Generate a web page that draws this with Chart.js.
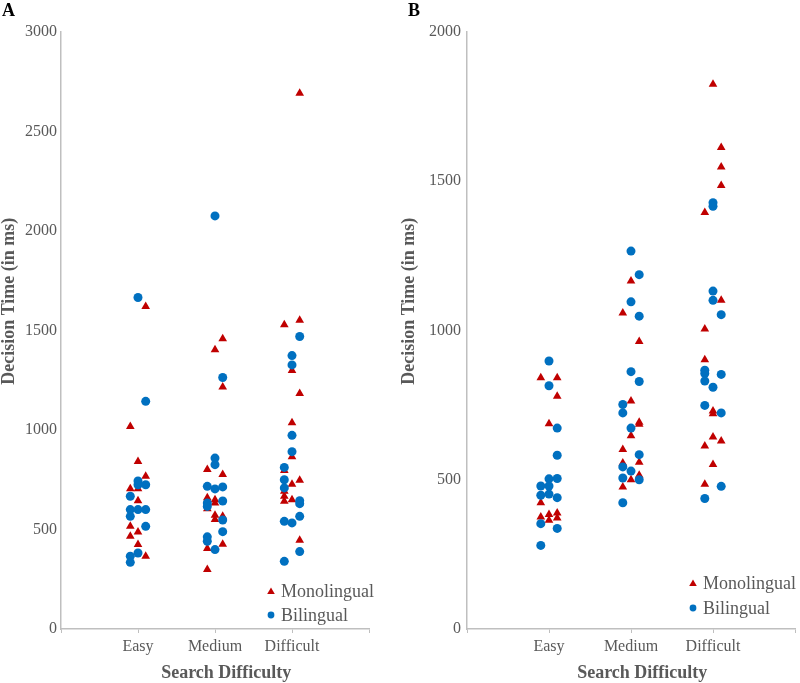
<!DOCTYPE html>
<html>
<head>
<meta charset="utf-8">
<script src="https://cdn.jsdelivr.net/npm/chart.js@4/dist/chart.umd.min.js"></script>
<style>
  body { margin: 0; background: #fff; }
  .panel { position: absolute; top: 0; width: 400px; height: 683px; }
  .tag { position: absolute; top: 1px; font: bold 18px "Liberation Serif", serif; line-height: 18px; color: #000; }
</style>
</head>
<body>
<div class="panel" style="left:0"><canvas id="chartA" width="400" height="683"></canvas></div>
<div class="panel" style="left:400px"><canvas id="chartB" width="400" height="683"></canvas></div>
<div class="tag" style="left:2px">A</div>
<div class="tag" style="left:408px">B</div>
<script>
const categories = ["Easy", "Medium", "Difficult"];
const ticksA = [0, 500, 1000, 1500, 2000, 2500, 3000];
const ticksB = [0, 500, 1000, 1500, 2000];

// Panel A – monolingual (x = category slot with jitter, y = ms)
const monoA_x = [1.1, 0.9, 1.0, 1.1, 0.9, 1.0, 1.0, 0.9, 1.0, 0.9, 1.0, 1.1,
  2.1, 2.0, 2.1, 1.9, 2.1, 1.9, 2.0, 2.0, 1.9, 2.0, 2.0, 2.1, 2.1, 1.9, 1.9,
  3.1, 2.9, 3.1, 3.0, 3.1, 3.0, 3.0, 2.9, 3.1, 3.0, 2.9, 2.9, 3.0, 2.9, 3.1];
const monoA_y = [1620, 1018, 842, 767, 705, 705, 645, 516, 488, 466, 424, 366,
  1458, 1403, 1216, 801, 776, 659, 650, 633, 604, 571, 550, 566, 426, 404, 299,
  2692, 1529, 1552, 1299, 1184, 1036, 866, 797, 747, 727, 692, 667, 650, 642, 446];
// Panel A – bilingual
const biA_x = [1.0, 1.1, 1.0, 1.0, 1.1, 0.9, 0.9, 1.0, 1.1, 0.9, 1.1, 1.0, 0.9, 0.9,
  2.0, 2.1, 2.0, 2.0, 1.9, 2.0, 2.1, 1.9, 1.9, 2.1, 2.1, 2.1, 1.9, 1.9, 2.0,
  3.1, 3.0, 3.0, 3.0, 3.0, 2.9, 2.9, 2.9, 3.1, 3.1, 3.1, 2.9, 3.0, 3.1, 2.9];
const biA_y = [1666, 1144, 744, 725, 725, 667, 600, 600, 600, 566, 516, 382, 366, 335,
  2076, 1264, 859, 826, 717, 704, 714, 633, 616, 643, 548, 489, 463, 441, 399,
  1470, 1374, 1327, 973, 891, 812, 750, 709, 645, 630, 566, 541, 533, 389, 340];

// Panel B – monolingual
const monoB_x = [0.9, 1.1, 1.1, 1.0, 0.9, 0.9, 1.0, 1.1, 1.0, 1.1,
  2.0, 1.9, 2.1, 2.0, 2.1, 2.1, 2.0, 1.9, 2.1, 1.9, 2.0, 2.1, 1.9,
  3.0, 3.1, 3.1, 3.1, 2.9, 3.1, 2.9, 2.9, 3.0, 3.0, 3.0, 3.1, 2.9, 3.0, 2.9];
const monoB_y = [842, 842, 780, 688, 423, 375, 384, 389, 364, 372,
  1166, 1059, 963, 764, 693, 686, 647, 601, 559, 556, 500, 515, 476,
  1825, 1613, 1548, 1486, 1395, 1101, 1005, 902, 730, 721, 643, 630, 613, 551, 485];
// Panel B – bilingual
const biB_x = [1.0, 1.0, 1.1, 1.1, 1.0, 1.1, 0.9, 1.0, 0.9, 1.0, 1.1, 0.9, 1.1, 0.9,
  2.0, 2.1, 2.0, 2.1, 2.0, 2.1, 1.9, 1.9, 2.0, 2.1, 1.9, 2.0, 1.9, 2.1, 1.9,
  3.0, 3.0, 3.0, 3.0, 3.1, 2.9, 2.9, 3.1, 2.9, 3.0, 2.9, 3.1, 3.1, 2.9];
const biB_y = [898, 815, 673, 582, 503, 504, 479, 479, 448, 452, 440, 353, 337, 280,
  1266, 1187, 1096, 1048, 862, 829, 752, 724, 673, 584, 543, 529, 506, 500, 423,
  1428, 1416, 1132, 1101, 1053, 867, 856, 853, 831, 810, 749, 724, 478, 437];

const RED = "#C00000";
const BLUE = "#0070C0";
const GREY = "#595959";
const AXIS = "#BFBFBF";
const FONT = "'Liberation Serif', 'Times New Roman', serif";

const toPoints = (xs, ys) => xs.map((x, i) => ({ x: x, y: ys[i] }));

// legend drawn inside the plot, bottom right
const insideLegend = {
  id: "insideLegend",
  afterDraw(chart, args, opts) {
    const ctx = chart.ctx;
    ctx.save();
    ctx.font = "18px " + FONT;
    ctx.textBaseline = "middle";
    chart.data.datasets.forEach((ds, i) => {
      const y = opts.y[i];
      const x = opts.textX - 10;
      ctx.fillStyle = ds.backgroundColor;
      ctx.beginPath();
      if (ds.pointStyle === "triangle") {
        ctx.moveTo(x, y - 3.5);
        ctx.lineTo(x + 3.8, y + 3);
        ctx.lineTo(x - 3.8, y + 3);
        ctx.closePath();
      } else {
        ctx.arc(x, y, 3.4, 0, Math.PI * 2);
      }
      ctx.fill();
      ctx.fillStyle = GREY;
      ctx.fillText(ds.label, opts.textX, y + 1);
    });
    ctx.restore();
  }
};

function makeChart(id, mono, bi, ticks, yWidth, padRight, labelPad, legendPos) {
  return new Chart(document.getElementById(id), {
    type: "scatter",
    data: {
      datasets: [
        { label: "Monolingual", data: mono, pointStyle: "triangle", pointRadius: 5,
          backgroundColor: RED, borderColor: RED, borderWidth: 0, order: 1 },
        { label: "Bilingual", data: bi, pointStyle: "circle", pointRadius: 4.5,
          backgroundColor: BLUE, borderColor: BLUE, borderWidth: 0, order: 0 }
      ]
    },
    options: {
      responsive: false,
      animation: false,
      layout: { padding: { left: 0, right: padRight, top: 32, bottom: 0 } },
      plugins: {
        legend: { display: false },
        tooltip: { enabled: false },
        insideLegend: legendPos
      },
      scales: {
        x: {
          type: "linear", min: 0, max: 4,
          afterFit: s => { s.height = 54; },
          grid: { display: true, drawOnChartArea: false, drawTicks: true, tickLength: 4, color: AXIS },
          border: { display: true, color: AXIS, width: 1.5 },
          ticks: {
            stepSize: 1, autoSkip: false, maxRotation: 0, padding: 4,
            color: GREY, font: { family: FONT, size: 16 },
            callback: v => categories[v - 1] || ""
          },
          title: {
            display: true, text: "\u2003 Search Difficulty", color: GREY,
            font: { family: FONT, size: 18, weight: "bold", lineHeight: 1.1 },
            padding: { top: 0, bottom: 0 }
          }
        },
        y: {
          min: 0, max: ticks[ticks.length - 1],
          afterFit: s => { s.width = yWidth; },
          grid: { display: false, drawTicks: false },
          border: { display: true, color: AXIS, width: 1.5 },
          ticks: {
            stepSize: ticks[1] - ticks[0], padding: labelPad,
            color: GREY, font: { family: FONT, size: 16 },
            callback: v => String(v)
          },
          title: {
            display: true, text: "\u2003\u2003\u2003 Decision Time (in ms)", color: GREY,
            font: { family: FONT, size: 18, weight: "bold", lineHeight: 1.0 },
            padding: { top: 0, bottom: 0 }
          }
        }
      }
    },
    plugins: [insideLegend]
  });
}

makeChart("chartA", toPoints(monoA_x, monoA_y), toPoints(biA_x, biA_y), ticksA,
  61, 31, 4, { textX: 281, y: [591, 615] });
makeChart("chartB", toPoints(monoB_x, monoB_y), toPoints(biB_x, biB_y), ticksB,
  67, 1, 6, { textX: 303, y: [583, 608] });
</script>
</body>
</html>
